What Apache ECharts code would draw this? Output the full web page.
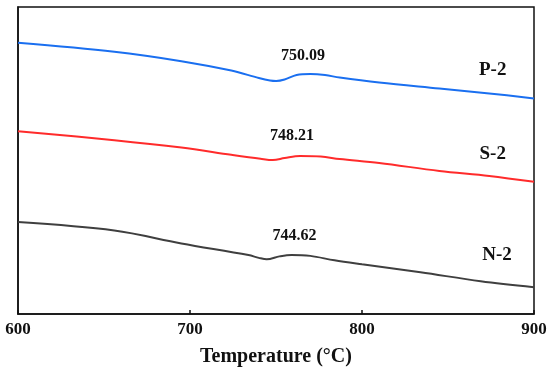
<!DOCTYPE html>
<html>
<head>
<meta charset="utf-8">
<script src="https://cdn.jsdelivr.net/npm/echarts@6/dist/echarts.min.js"></script>
<style>html,body{margin:0;padding:0;background:#fff}#c{width:550px;height:372px}</style>
</head>
<body>
<div id="c"></div>
<script>
// Temperature (°C) and signal (arbitrary units)
var p2Temp = [600, 656, 695, 724, 740, 746.5, 750.1, 755, 762, 770, 778.5, 787, 810, 845, 874, 900];
var p2Val  = [273, 264, 254.5, 245, 237.5, 235, 234.5, 236, 240.5, 241.5, 240.5, 238, 233, 227, 222, 217];
var s2Temp = [600, 656, 695, 724, 741, 748.2, 755, 764, 776, 787, 810, 845, 874, 900];
var s2Val  = [184, 175, 167.5, 160.3, 156.3, 155, 157, 159, 158.5, 156, 152, 144, 139, 133];
var n2Temp = [600, 656, 695, 734, 740, 744.6, 752, 759, 770, 784, 800, 834, 869, 900];
var n2Val  = [92.5, 84, 71, 59.3, 56.5, 55, 58, 59.5, 58.5, 54, 50, 42, 33, 27];
var xTicks = [600, 700, 800, 900];
var peakLabels = ['750.09', '748.21', '744.62'];
var peakPos = [[765.7, 260], [759.3, 179], [760.8, 79]];
var seriesNames = ['P-2', 'S-2', 'N-2'];
var namePos = [[876, 245], [876, 161], [878.5, 59]];
var colors = ['#1a6ff0', '#ff2b2b', '#3f3f3f'];

function zip(a, b) { return a.map(function (v, i) { return [v, b[i]]; }); }
var lines = [zip(p2Temp, p2Val), zip(s2Temp, s2Val), zip(n2Temp, n2Val)];

var font = '"Liberation Serif", "Times New Roman", serif';
var chart = echarts.init(document.getElementById('c'));
var series = lines.map(function (d, i) {
  return {
    type: 'line', name: seriesNames[i], data: d, symbol: 'none',
    smooth: 0.35,
    lineStyle: { color: colors[i], width: 2 },
    markPoint: {
      symbol: 'circle', symbolSize: 0, silent: true,
      label: { show: true, position: 'inside', color: '#111', fontFamily: font, fontWeight: 'bold' },
      data: [
        { coord: peakPos[i], value: peakLabels[i], label: { formatter: peakLabels[i], fontSize: 16 } },
        { coord: namePos[i], value: seriesNames[i], label: { formatter: seriesNames[i], fontSize: 19 } }
      ]
    }
  };
});

chart.setOption({
  animation: false,
  grid: { left: 18, right: 16, top: 7, bottom: 56, show: true, borderColor: '#111', borderWidth: 1.5, backgroundColor: 'transparent' },
  xAxis: {
    type: 'value', min: 600, max: 900, interval: 100,
    name: 'Temperature (°C)', nameLocation: 'middle', nameGap: 33,
    nameTextStyle: { fontFamily: font, fontWeight: 'bold', fontSize: 20, color: '#111' },
    axisLine: { show: true, lineStyle: { color: '#111', width: 1.5 } },
    axisTick: { show: true, inside: true, length: 4, lineStyle: { color: '#111', width: 1.5 } },
    axisLabel: { fontFamily: font, fontWeight: 'bold', fontSize: 17, color: '#111', margin: 7,
      formatter: function (v) { return xTicks.indexOf(v) >= 0 ? String(v) : ''; } },
    splitLine: { show: false }
  },
  yAxis: {
    type: 'value', min: 0, max: 309,
    axisLine: { show: true, lineStyle: { color: '#111', width: 1.5 } },
    axisTick: { show: false }, axisLabel: { show: false }, splitLine: { show: false }
  },
  series: series
});
</script>
</body>
</html>
